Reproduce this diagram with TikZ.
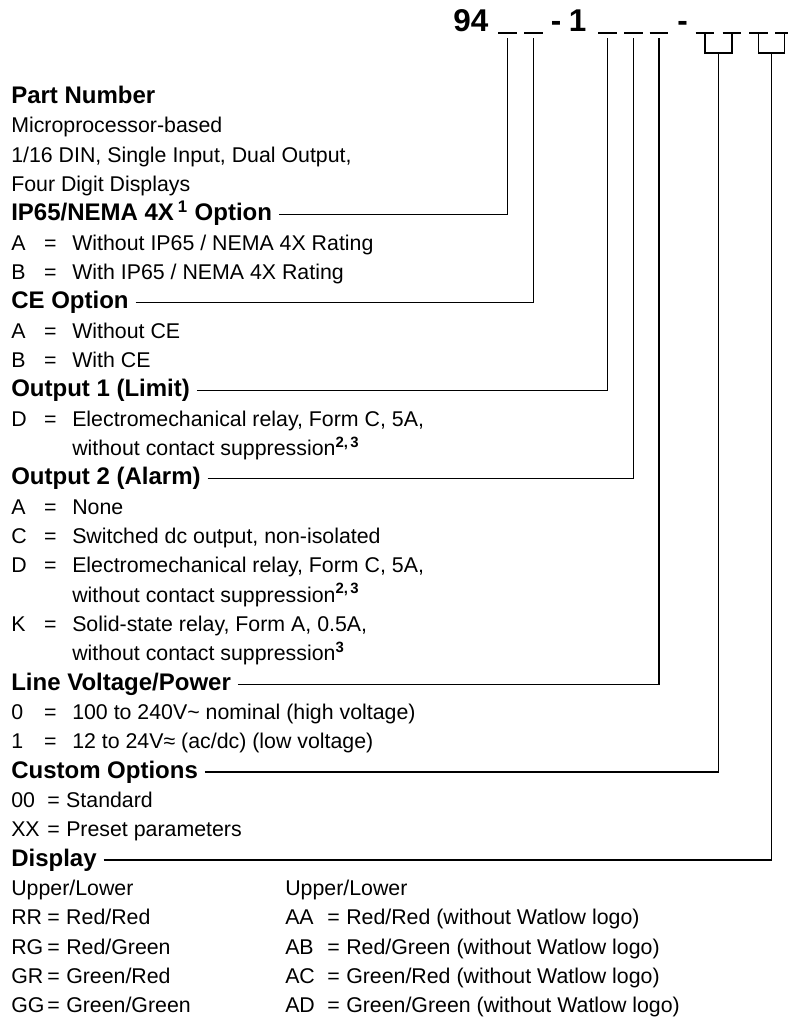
\documentclass[tikz,border=0pt]{standalone}
\usepackage{fontspec}
\setmainfont{Liberation Sans}
\usetikzlibrary{positioning}
% baseline of text row #1, in px from the top
\newcommand\ry[1]{{103.5+29.33*#1}}
% key and = column of an option row
\newcommand\kw[1]{\makebox[24.75pt][l]{#1}\makebox[21pt][l]{=}}
\newcommand\kww[2][27pt]{\makebox[#1][l]{#2}\makebox[14.25pt][l]{=}}

\begin{document}
\begin{tikzpicture}[x=0.75pt,y=-0.75pt,
  txt/.style={anchor=base west,inner sep=0pt,font=\fontsize{16}{18}\selectfont},
  hd/.style={anchor=base west,inner sep=0pt,font=\fontsize{18}{20}\selectfont\bfseries},
  big/.style={anchor=base,inner sep=0pt,font=\fontsize{23.6}{26}\selectfont\bfseries},
  lead/.style={line width=0.9pt},
  slot/.style={line width=1pt}]
\useasboundingbox (0,0) rectangle (788,1020);

% part number code
\node[big,anchor=base west] (n94) at (453,32) {94};
\node[big] (dash1) at (556,32) {-};
\node[big] (one) at (577.5,32) {1};
\node[big] (dash2) at (682.5,32) {-};
\foreach \n/\x in {1/507.5,2/533.5,3/607.5,4/633.5,5/659,6/705,7/732,8/758.5,9/784.5}{
  \coordinate (u\n) at (\x,33);
  \draw[slot] ([xshift=-7pt]u\n) -- ([xshift=7pt]u\n);
}
\foreach \n in {1,...,5}
  \coordinate (s\n) at ([yshift=-3.75pt]u\n);
\coordinate (b1) at (718.5,53);
\coordinate (b2) at (771.5,53);
\draw[lead] (u6) |- (b1) -| (u7);
\draw[lead] (u8) |- (b2) -| (u9);

% part number
\node[hd] (hpart) at (11,\ry{0}) {Part Number};
\node[txt] (p1) at (11,\ry{1}) {Microprocessor-based};
\node[txt] (p2) at (11,\ry{2}) {1/16 DIN, Single Input, Dual Output,};
\node[txt] (p3) at (11,\ry{3}) {Four Digit Displays};

% IP65
\node[hd] (hip) at (11,\ry{4}) {IP65/NEMA 4X\,\textsuperscript{1} Option};
\node[txt] (ipa) at (11,\ry{5}) {\kw{A}Without IP65 / NEMA 4X Rating};
\node[txt] (ipb) at (11,\ry{6}) {\kw{B}With IP65 / NEMA 4X Rating};

% CE
\node[hd] (hce) at (11,\ry{7}) {CE Option};
\node[txt] (cea) at (11,\ry{8}) {\kw{A}Without CE};
\node[txt] (ceb) at (11,\ry{9}) {\kw{B}With CE};

% output 1
\node[hd] (hout1) at (11,\ry{10}) {Output 1 (Limit)};
\node[txt] (o1d) at (11,\ry{11}) {\kw{D}Electromechanical relay, Form C, 5A,};
\node[txt] (o1dx) at (72,\ry{12}) {without contact suppression\textsuperscript{\bfseries 2,\,3}};

% output 2
\node[hd] (hout2) at (11,\ry{13}) {Output 2 (Alarm)};
\node[txt] (o2a) at (11,\ry{14}) {\kw{A}None};
\node[txt] (o2c) at (11,\ry{15}) {\kw{C}Switched dc output, non-isolated};
\node[txt] (o2d) at (11,\ry{16}) {\kw{D}Electromechanical relay, Form C, 5A,};
\node[txt] (o2dx) at (72,\ry{17}) {without contact suppression\textsuperscript{\bfseries 2,\,3}};
\node[txt] (o2k) at (11,\ry{18}) {\kw{K}Solid-state relay, Form A, 0.5A,};
\node[txt] (o2kx) at (72,\ry{19}) {without contact suppression\textsuperscript{\bfseries 3}};

% line voltage
\node[hd] (hline) at (11,\ry{20}) {Line Voltage/Power};
\node[txt] (lv0) at (11,\ry{21}) {\kw{0}100 to 240V\textasciitilde{} nominal (high voltage)};
\node[txt] (lv1) at (11,\ry{22}) {\kw{1}12 to 24V≈ (ac/dc) (low voltage)};

% custom options
\node[hd] (hcust) at (11,\ry{23}) {Custom Options};
\node[txt] (cu0) at (11,\ry{24}) {\kww{00}Standard};
\node[txt] (cux) at (11,\ry{25}) {\kww{XX}Preset parameters};

% display
\node[hd] (hdisp) at (11,\ry{26}) {Display};
\node[txt] (dul) at (11,\ry{27}) {Upper/Lower};
\node[txt] (dul2) at (285,\ry{27}) {Upper/Lower};
\node[txt] (drr) at (11,\ry{28}) {\kww{RR}Red/Red};
\node[txt] (drg) at (11,\ry{29}) {\kww{RG}Red/Green};
\node[txt] (dgr) at (11,\ry{30}) {\kww{GR}Green/Red};
\node[txt] (dgg) at (11,\ry{31}) {\kww{GG}Green/Green};
\node[txt] (daa) at (285,\ry{28}) {\kww[31.5pt]{AA}Red/Red (without Watlow logo)};
\node[txt] (dab) at (285,\ry{29}) {\kww[31.5pt]{AB}Red/Green (without Watlow logo)};
\node[txt] (dac) at (285,\ry{30}) {\kww[31.5pt]{AC}Green/Red (without Watlow logo)};
\node[txt] (dad) at (285,\ry{31}) {\kww[31.5pt]{AD}Green/Green (without Watlow logo)};

% leader lines
\draw[lead] ([xshift=5pt,yshift=4.5pt]hip.base east) -| (s1);
\draw[lead] ([xshift=5pt,yshift=4.5pt]hce.base east) -| (s2);
\draw[lead] ([xshift=5pt,yshift=4.5pt]hout1.base east) -| (s3);
\draw[lead] ([xshift=5pt,yshift=4.5pt]hout2.base east) -| (s4);
\draw[lead] ([xshift=5pt,yshift=4.5pt]hline.base east) -| (s5);
\draw[lead] ([xshift=5pt,yshift=4.5pt]hcust.base east) -| (b1);
\draw[lead] ([xshift=5pt,yshift=4.5pt]hdisp.base east) -| (b2);
\end{tikzpicture}
\end{document}
